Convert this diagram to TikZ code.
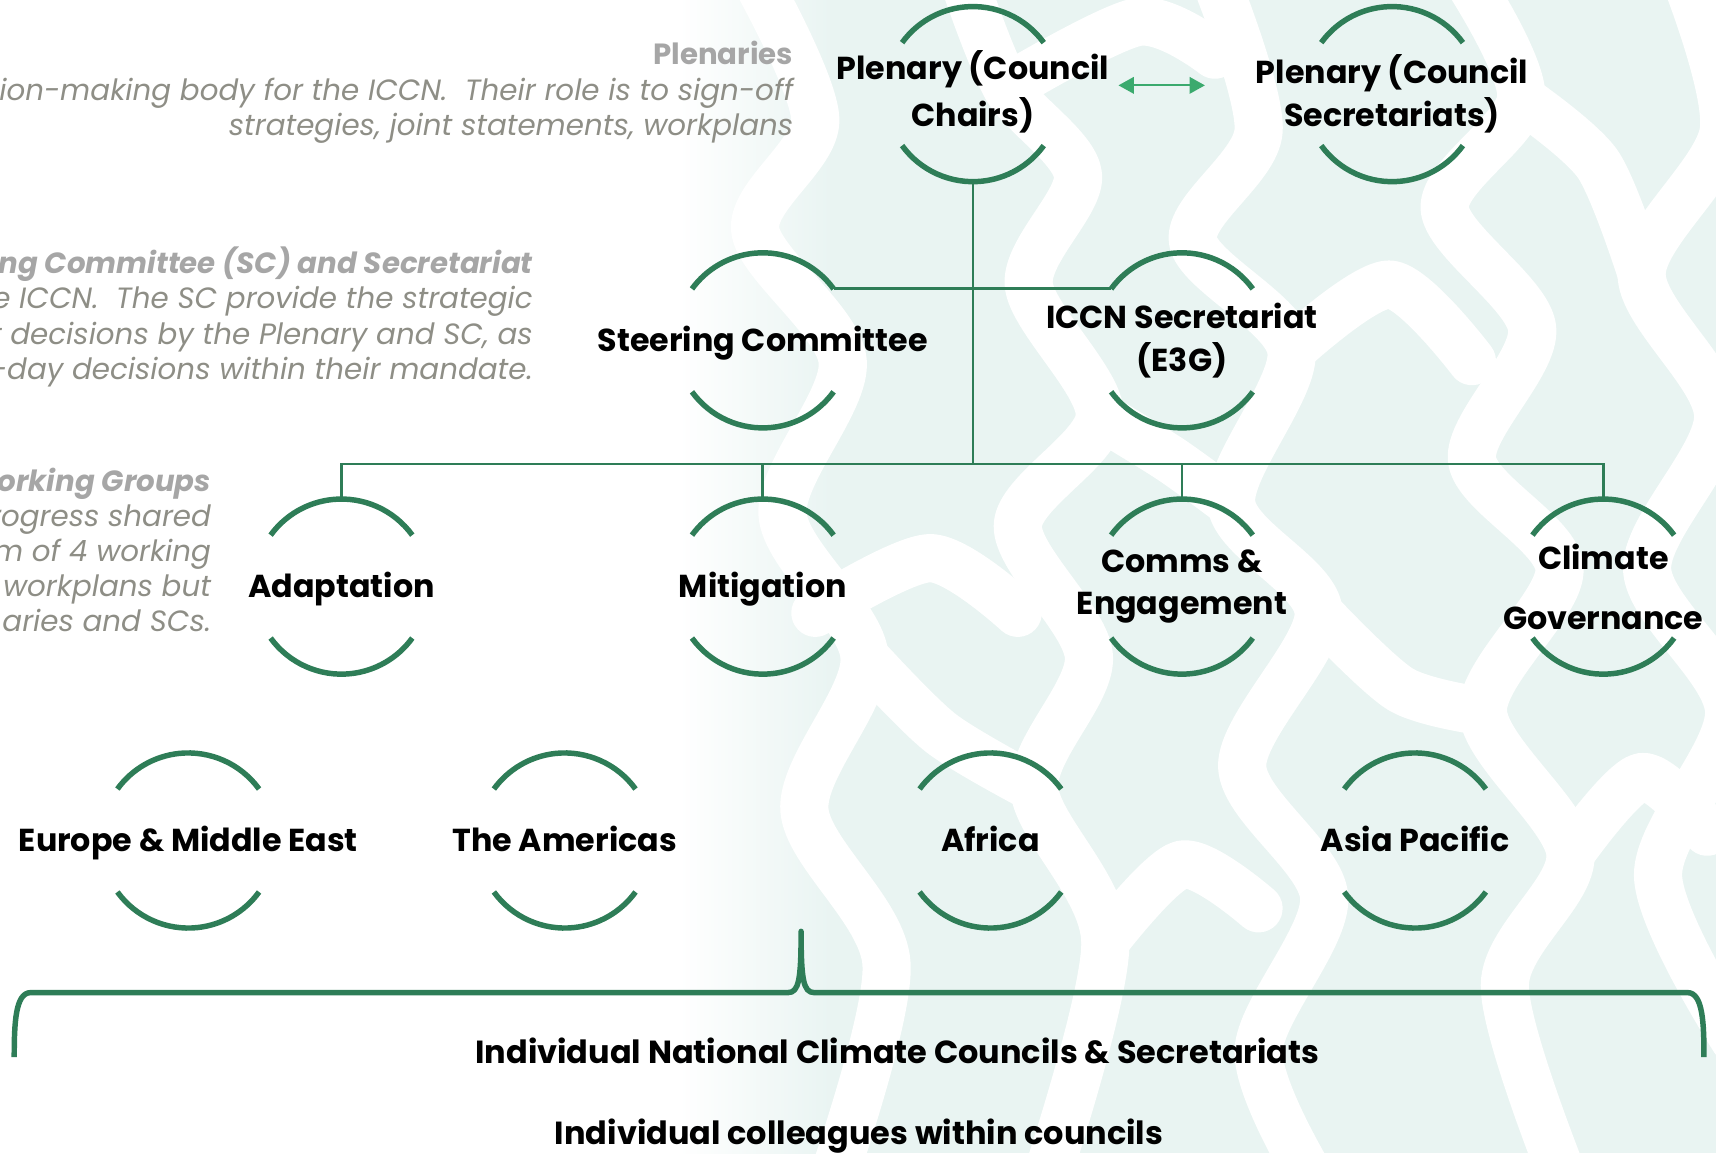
\documentclass[tikz,border=0pt]{standalone}
\usepackage{fontspec}
\setmainfont{Poppins}
\usetikzlibrary{calc,arrows.meta}
\definecolor{gr}{HTML}{2E7D57}
\definecolor{arrc}{HTML}{3BAA6E}
\definecolor{hd}{HTML}{A6A6A6}
\definecolor{bd}{HTML}{8E8E86}
\definecolor{bgc}{HTML}{E9F4F2}
\tikzset{
  lbl/.style={font=\bfseries\fontsize{29}{39}\selectfont, align=center, text=black, inner sep=0pt},
  lbl1/.style={lbl, anchor=base, yshift=-10pt},
  ringarc/.style={draw=gr, line width=5pt},
  conn/.style={draw=gr, line width=2.6pt},
  hdtxt/.style={font=\bfseries\itshape\fontsize{26.7}{32}\selectfont, text=hd, anchor=base east, inner sep=0pt},
  hdup/.style={font=\bfseries\fontsize{26.7}{32}\selectfont, text=hd, anchor=base east, inner sep=0pt},
  bdtxt/.style={font=\itshape\fontsize{26.8}{32}\selectfont, text=bd, anchor=base east, inner sep=0pt},
  bigtxt/.style={font=\bfseries\fontsize{29.2}{34}\selectfont, text=black, inner sep=0pt},
  wband/.style={draw=white, line width=44pt, line cap=round, line join=round},
}
\newcommand{\ringat}[1]{%
  \draw[ringarc] (#1) ++(36:80pt) arc[start angle=36, end angle=144, radius=80pt];
  \draw[ringarc] (#1) ++(216:80pt) arc[start angle=216, end angle=324, radius=80pt];
}
\begin{document}
\begin{tikzpicture}[x=1pt,y=1pt]
\useasboundingbox (0,0) rectangle (1568,-1054);
% background pattern
\begin{scope}
\clip (0,0) rectangle (1568,-1054);
\fill[bgc] (760,0) rectangle (1568,-1054);
\shade[left color=white, right color=bgc] (620,0) rectangle (761,-1054);
\draw[wband] plot[smooth] coordinates {(690,20) (745,-110) (690,-210) (770,-330) (715,-470) (790,-600) (735,-740) (810,-880) (760,-1080)};
\draw[wband] plot[smooth] coordinates {(880,20) (920,-80) (985,-160) (940,-260) (1005,-380) (930,-480) (995,-600) (945,-720) (1010,-860) (955,-1080)};
\draw[wband] plot[smooth] coordinates {(1110,20) (1150,-120) (1090,-220) (1180,-320) (1125,-460) (1205,-560) (1135,-700) (1210,-820) (1150,-960) (1200,-1080)};
\draw[wband] plot[smooth] coordinates {(1340,20) (1390,-90) (1320,-190) (1400,-300) (1345,-420) (1425,-520) (1355,-650) (1435,-780) (1375,-900) (1430,-1080)};
\draw[wband] plot[smooth] coordinates {(1540,20) (1575,-120) (1500,-250) (1570,-380) (1505,-520) (1580,-650) (1515,-800) (1585,-950)};
\draw[wband] plot[smooth] coordinates {(745,-560) (850,-510) (930,-560)};
\draw[wband] plot[smooth] coordinates {(1180,-320) (1270,-260) (1345,-330)};
\draw[wband] plot[smooth] coordinates {(1010,-860) (1080,-790) (1150,-830)};
\draw[wband] plot[smooth] coordinates {(1435,-780) (1500,-710) (1560,-760)};
\draw[wband] plot[smooth] coordinates {(920,-80) (1040,-20) (1110,-50)};
\draw[wband] plot[smooth] coordinates {(790,-600) (860,-670) (945,-720)};
\draw[wband] plot[smooth] coordinates {(1205,-560) (1280,-630) (1355,-650)};
\draw[wband] plot[smooth] coordinates {(1005,-380) (1070,-420) (1125,-460)};
\draw[wband] plot[smooth] coordinates {(1390,-90) (1460,-150) (1500,-250)};
\end{scope}

% left explanatory text
\node[hdup]  at (725,-59) {Plenaries};
\node[bdtxt] at (725,-92) {ion-making body for the ICCN.\ \ Their role is to sign-off};
\node[bdtxt] at (725,-124) {strategies, joint statements, workplans};
\node[hdtxt] at (487,-250) {ng Committee (SC) and Secretariat};
\node[bdtxt] at (487,-282) {e ICCN.\ \ The SC provide the strategic};
\node[bdtxt] at (487,-315) {t decisions by the Plenary and SC, as};
\node[bdtxt] at (487,-347) {-day decisions within their mandate.};
\node[hdtxt] at (193,-449) {orking Groups};
\node[bdtxt] at (193,-481) {rogress shared};
\node[bdtxt] at (193,-513) {m of 4 working};
\node[bdtxt] at (193,-545) {workplans but};
\node[bdtxt] at (193,-577) {aries and SCs.};

% ring centres
\coordinate (cpc) at (889,-86);
\coordinate (cps) at (1272,-86);
\coordinate (csc) at (697,-311);
\coordinate (cic) at (1080,-311);
\coordinate (cad) at (312,-536);
\coordinate (cmi) at (697,-536);
\coordinate (cco) at (1080,-536);
\coordinate (ccg) at (1465,-536);
\coordinate (ceu) at (172,-768);
\coordinate (cam) at (516,-768);
\coordinate (caf) at (905,-768);
\coordinate (cap) at (1293,-768);

% nodes
\node[lbl] (pc) at ($(cpc)+(0,2)$) {Plenary (Council\\[4pt]Chairs)};
\node[lbl] (ps) at (cps) {Plenary (Council\\Secretariats)};
\node[lbl1] (sc) at (csc) {Steering Committee};
\node[lbl] (ic) at (cic) {ICCN Secretariat\\(E3G)};
\node[lbl1] (ad) at (cad) {Adaptation};
\node[lbl1] (mi) at (cmi) {Mitigation};
\node[lbl] (co) at (cco) {Comms \&\\Engagement};
\node[lbl] (cg) at (ccg) {Climate\\[16pt]Governance};
\node[lbl1] (eu) at (ceu) {Europe \& Middle East};
\node[lbl1] (am) at (cam) {The Americas};
\node[lbl1] (af) at (caf) {Africa};
\node[lbl1] (ap) at (cap) {Asia Pacific};

\foreach \n in {cpc,cps,csc,cic,cad,cmi,cco,ccg,ceu,cam,caf,cap}{\ringat{\n}}

% connectors
\coordinate (bus) at (889,-424);
\coordinate (pcB) at ($(cpc)+(0,-80)$);
\coordinate (scR) at ($(csc)+(36:80pt)$);
\coordinate (icL) at ($(cic)+(144:80pt)$);
\draw[conn] (pcB) -- (bus);
\draw[conn] (scR) -- (icL);
\draw[conn] ($(cad)+(0,80)$) -- (cad |- bus) -- (ccg |- bus) -- ($(ccg)+(0,80)$);
\draw[conn] (cmi |- bus) -- ($(cmi)+(0,80)$);
\draw[conn] (cco |- bus) -- ($(cco)+(0,80)$);

% double arrow
\coordinate (arL) at (1022,-78);
\coordinate (arR) at (1101,-78);
\draw[arrc, line width=2pt, {Triangle[length=14pt,width=15pt]}-{Triangle[length=14pt,width=15pt]}] (arL) -- (arR);

% brace
\coordinate (brL) at (13,-966);
\coordinate (brT) at (732,-851);
\coordinate (brR) at (1557,-966);
\draw[gr, line width=5pt, line join=round]
  (brL) .. controls (13,-935) and (14,-907) .. (28,-907)
  -- (720,-907) .. controls (730,-907) and (732,-895) .. (brT)
  .. controls (732,-895) and (734,-907) .. (744,-907)
  -- (1542,-907) .. controls (1556,-907) and (1557,-935) .. (brR);

% bottom texts
\node[bigtxt] (nat) at (820,-960) {Individual National Climate Councils \& Secretariats};
\node[bigtxt] (col) at (785,-1038) {Individual colleagues within councils};
\end{tikzpicture}
\end{document}
